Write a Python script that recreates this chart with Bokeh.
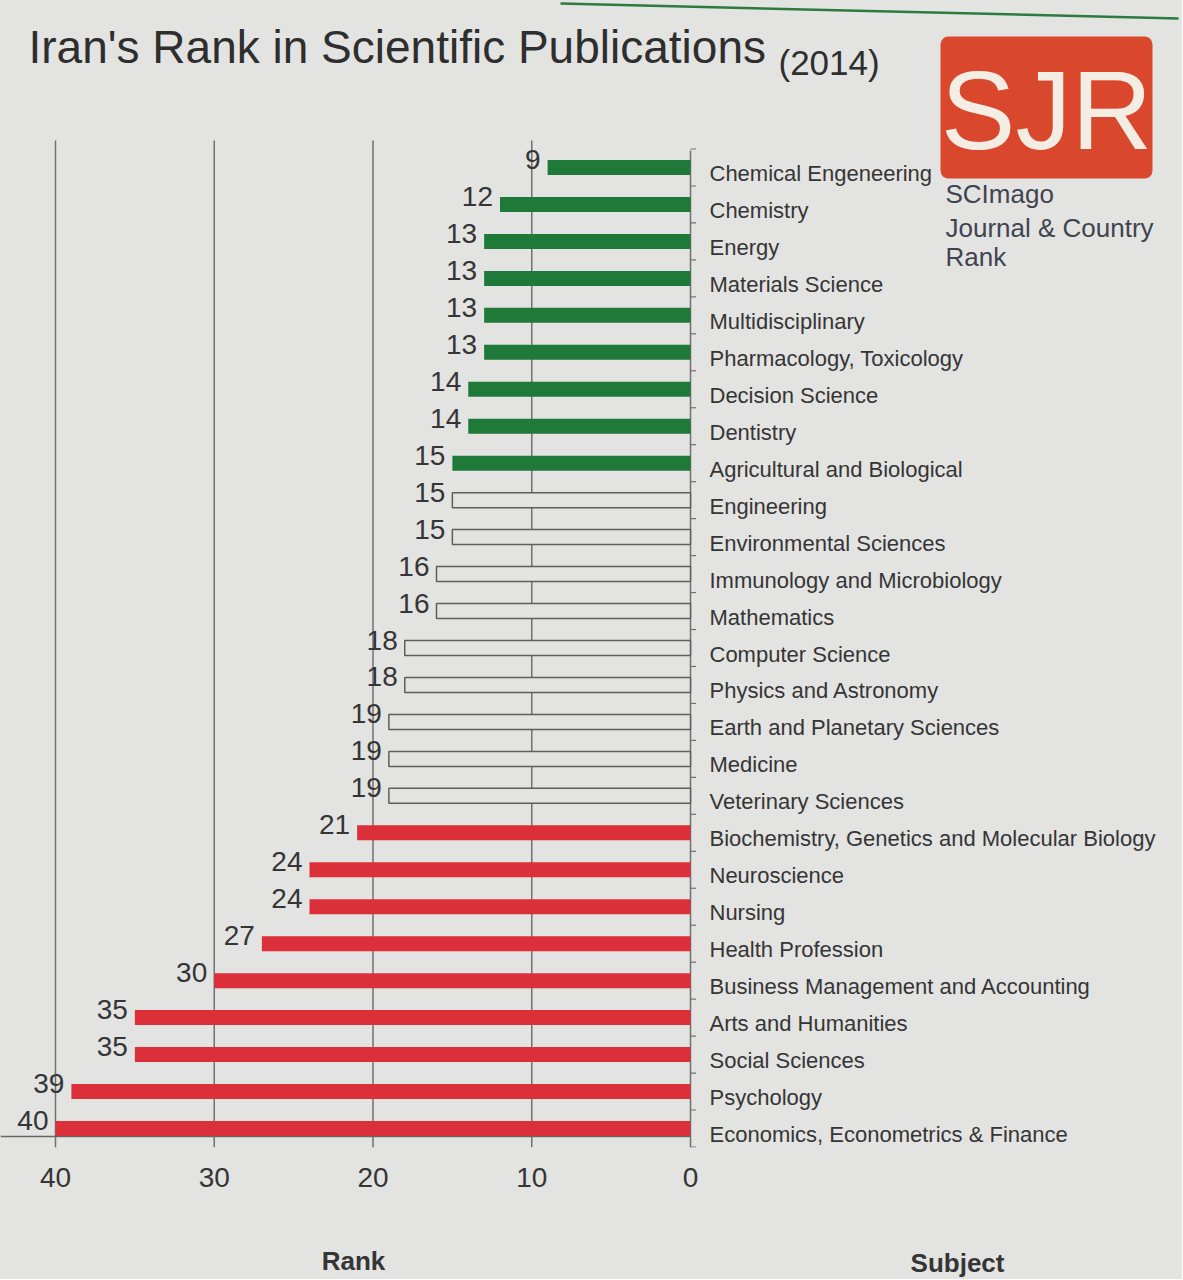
from bokeh.plotting import figure
from bokeh.models import Range1d, FixedTicker, Label, BoxAnnotation, ColumnDataSource
from bokeh.layouts import column
from bokeh.core.properties import value
from bokeh.embed import file_html
from bokeh.resources import INLINE

subjects = [
    "Chemical Engeneering", "Chemistry", "Energy", "Materials Science",
    "Multidisciplinary", "Pharmacology, Toxicology", "Decision Science",
    "Dentistry", "Agricultural and Biological", "Engineering",
    "Environmental Sciences", "Immunology and Microbiology", "Mathematics",
    "Computer Science", "Physics and Astronomy", "Earth and Planetary Sciences",
    "Medicine", "Veterinary Sciences", "Biochemistry, Genetics and Molecular Biology",
    "Neuroscience", "Nursing", "Health Profession",
    "Business Management and Accounting", "Arts and Humanities",
    "Social Sciences", "Psychology", "Economics, Econometrics & Finance",
]
ranks = [9, 12, 13, 13, 13, 13, 14, 14, 15, 15, 15, 16, 16, 18, 18, 19, 19, 19,
         21, 24, 24, 27, 30, 35, 35, 39, 40]
groups = ["top"] * 9 + ["mid"] * 9 + ["low"] * 9
x_ticks = [0, 10, 20, 30, 40]

BG = "#e3e3e1"
GREEN = "#1f7a3a"
RED = "#db2f39"
TXT = "#353535"
GRID = "#707070"
FONT = "Liberation Sans"

W = 1182
FRAME_BOTTOM = 1147      # page px where main frame ends
AXIS_H = 52
H1 = FRAME_BOTTOM + AXIS_H
H2 = 1279 - H1

# page geometry helpers (page px -> data)
X0_PX, X40_PX = 690, 55
PXU = (X0_PX - X40_PX) / 40.0
Y_FIRST, SP = 167, (1128 - 167) / 26.0
BASELINE = 1136


def px2x(px):
    return (X0_PX - px) / PXU


def py2y(py):
    return (py - Y_FIRST) / SP


xr = Range1d(px2x(0), px2x(W))
p = figure(width=W, height=H1, output_backend="svg", toolbar_location=None,
           x_range=xr, y_range=Range1d(py2y(FRAME_BOTTOM), py2y(0)),
           min_border_left=0, min_border_right=0, min_border_top=0,
           min_border_bottom=AXIS_H)
p.background_fill_color = None
p.border_fill_color = BG
p.outline_line_color = None
p.yaxis.visible = False
p.xgrid.visible = False
p.ygrid.visible = False

ax = p.xaxis[0]
ax.ticker = FixedTicker(ticks=x_ticks)
ax.axis_line_color = None
ax.major_tick_line_color = None
ax.minor_tick_line_color = None
ax.major_label_text_font = FONT
ax.major_label_text_font_size = "28px"
ax.major_label_text_color = TXT
ax.major_label_standoff = 14

idx = list(range(len(subjects)))

# vertical grid lines (continue below the baseline as ticks)
grid_x = [t for t in x_ticks if t > 0]
p.segment(x0=grid_x, x1=grid_x, y0=[py2y(140)] * len(grid_x),
          y1=[py2y(FRAME_BOTTOM)] * len(grid_x), line_color=GRID, line_width=1.5)
# zero line with small ticks between categories
p.segment(x0=[0], x1=[0], y0=[py2y(150)], y1=[py2y(FRAME_BOTTOM)],
          line_color=GRID, line_width=1.5)
sep = [i - 0.5 for i in idx] + [idx[-1] + 0.5]
p.segment(x0=[0] * len(sep), x1=[-0.35] * len(sep), y0=sep, y1=sep,
          line_color=GRID, line_width=1.2)
# baseline
p.segment(x0=[0], x1=[px2x(0)], y0=[py2y(BASELINE)], y1=[py2y(BASELINE)],
          line_color="#666666", line_width=1.5)

BAR_H = 15 / SP
for g, fill, line in [("top", GREEN, None), ("mid", BG, "#5e5e5e"), ("low", RED, None)]:
    ii = [i for i in idx if groups[i] == g]
    src = ColumnDataSource(dict(y=ii, r=[ranks[i] for i in ii]))
    p.hbar(y="y", left=0, right="r", height=BAR_H, source=src, fill_color=fill,
           line_color=line, line_width=1.5 if line else 0)

# value labels
p.text(x=ranks, y=idx, text=[str(r) for r in ranks], text_align="right",
       text_baseline="middle", x_offset=-7, y_offset=-8,
       text_font=value(FONT), text_font_size="28px", text_color=TXT)
# subject labels
p.text(x=[px2x(709)] * len(idx), y=idx, text=subjects, text_align="left",
       text_baseline="middle", y_offset=6,
       text_font=value(FONT), text_font_size="22px", text_color=TXT)

# title
p.add_layout(Label(x=px2x(28), y=py2y(46), text="Iran's Rank in Scientific Publications",
                   text_font=FONT, text_font_size="46px", text_color="#2e2e2e",
                   text_baseline="middle", text_align="left"))
p.add_layout(Label(x=px2x(778), y=py2y(62), text="(2014)",
                   text_font=FONT, text_font_size="35px", text_color="#2e2e2e",
                   text_baseline="middle", text_align="left"))

# top decorative line
p.segment(x0=[px2x(560)], x1=[px2x(1178)], y0=[py2y(3)], y1=[py2y(18)],
          line_color="#2b7a3e", line_width=2.5)

# SJR logo
p.add_layout(BoxAnnotation(left=px2x(940), right=px2x(1152), top=py2y(36), bottom=py2y(178),
                           fill_color="#d9482c", fill_alpha=1.0, line_color=None,
                           border_radius=8))
p.add_layout(Label(x=px2x(1046), y=py2y(110), text="SJR", text_font=FONT,
                   text_font_size="112px", text_color="#f4ede4",
                   text_align="center", text_baseline="middle"))
for t, yy in [("SCImago", 193), ("Journal & Country", 227), ("Rank", 256)]:
    p.add_layout(Label(x=px2x(945), y=py2y(yy), text=t, text_font=FONT,
                       text_font_size="26px", text_color="#3f4350",
                       text_align="left", text_baseline="middle"))

# bottom strip with the two column captions
p2 = figure(width=W, height=H2, output_backend="svg", toolbar_location=None,
            x_range=xr, y_range=Range1d(1279, H1),
            min_border_left=0, min_border_right=0, min_border_top=0, min_border_bottom=0)
p2.background_fill_color = None
p2.border_fill_color = BG
p2.outline_line_color = None
p2.axis.visible = False
p2.grid.visible = False
p2.text(x=[px2x(353), px2x(957)], y=[1260, 1262], text=["Rank", "Subject"],
        text_align="center", text_baseline="middle", text_font=value(FONT),
        text_font_style="bold", text_font_size="26px", text_color=TXT)

layout = column(p, p2, spacing=0, styles={"background-color": BG})
open("out.html", "w").write(file_html(layout, INLINE))
